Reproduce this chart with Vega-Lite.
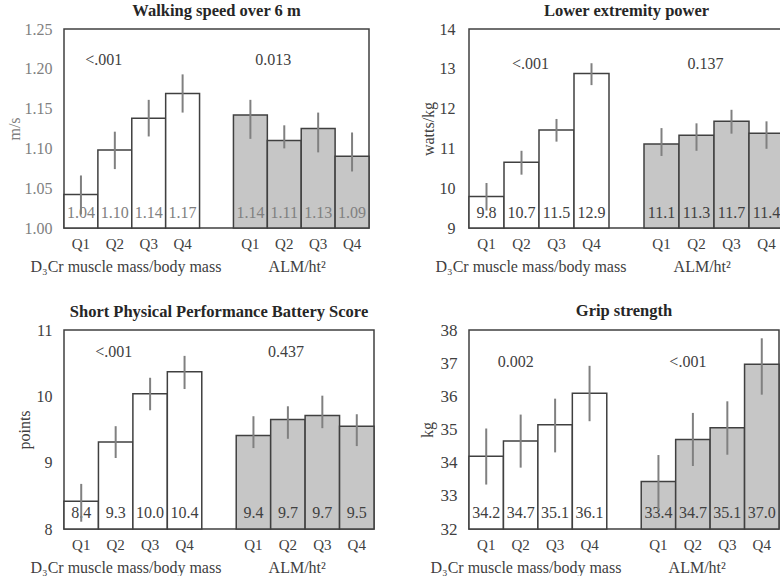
{
  "$schema": "https://vega.github.io/schema/vega-lite/v6.json",
  "padding": {"left": 5, "top": 1, "right": 2, "bottom": 0},
  "background": "white",
  "datasets": {
    "bars": [
      {"panel": "walk", "grp": "D", "slot": "D1", "mean": 1.042, "lo": 1.017, "hi": 1.066, "label": "1.04", "p": ""},
      {"panel": "walk", "grp": "D", "slot": "D2", "mean": 1.098, "lo": 1.074, "hi": 1.121, "label": "1.10", "p": "<.001"},
      {"panel": "walk", "grp": "D", "slot": "D3", "mean": 1.138, "lo": 1.115, "hi": 1.161, "label": "1.14", "p": ""},
      {"panel": "walk", "grp": "D", "slot": "D4", "mean": 1.169, "lo": 1.145, "hi": 1.193, "label": "1.17", "p": ""},
      {"panel": "walk", "grp": "A", "slot": "A1", "mean": 1.142, "lo": 1.112, "hi": 1.161, "label": "1.14", "p": ""},
      {"panel": "walk", "grp": "A", "slot": "A2", "mean": 1.110, "lo": 1.100, "hi": 1.129, "label": "1.11", "p": "0.013"},
      {"panel": "walk", "grp": "A", "slot": "A3", "mean": 1.125, "lo": 1.095, "hi": 1.145, "label": "1.13", "p": ""},
      {"panel": "walk", "grp": "A", "slot": "A4", "mean": 1.090, "lo": 1.071, "hi": 1.120, "label": "1.09", "p": ""},
      {"panel": "power", "grp": "D", "slot": "D1", "mean": 9.79, "lo": 9.44, "hi": 10.13, "label": "9.8", "p": ""},
      {"panel": "power", "grp": "D", "slot": "D2", "mean": 10.65, "lo": 10.34, "hi": 10.94, "label": "10.7", "p": "<.001"},
      {"panel": "power", "grp": "D", "slot": "D3", "mean": 11.46, "lo": 11.17, "hi": 11.74, "label": "11.5", "p": ""},
      {"panel": "power", "grp": "D", "slot": "D4", "mean": 12.88, "lo": 12.59, "hi": 13.14, "label": "12.9", "p": ""},
      {"panel": "power", "grp": "A", "slot": "A1", "mean": 11.11, "lo": 10.81, "hi": 11.51, "label": "11.1", "p": ""},
      {"panel": "power", "grp": "A", "slot": "A2", "mean": 11.33, "lo": 10.94, "hi": 11.63, "label": "11.3", "p": "0.137"},
      {"panel": "power", "grp": "A", "slot": "A3", "mean": 11.68, "lo": 11.37, "hi": 11.97, "label": "11.7", "p": ""},
      {"panel": "power", "grp": "A", "slot": "A4", "mean": 11.38, "lo": 10.99, "hi": 11.68, "label": "11.4", "p": ""},
      {"panel": "sppb", "grp": "D", "slot": "D1", "mean": 8.42, "lo": 8.11, "hi": 8.68, "label": "8.4", "p": ""},
      {"panel": "sppb", "grp": "D", "slot": "D2", "mean": 9.31, "lo": 9.07, "hi": 9.55, "label": "9.3", "p": "<.001"},
      {"panel": "sppb", "grp": "D", "slot": "D3", "mean": 10.04, "lo": 9.79, "hi": 10.28, "label": "10.0", "p": ""},
      {"panel": "sppb", "grp": "D", "slot": "D4", "mean": 10.37, "lo": 10.11, "hi": 10.61, "label": "10.4", "p": ""},
      {"panel": "sppb", "grp": "A", "slot": "A1", "mean": 9.41, "lo": 9.22, "hi": 9.70, "label": "9.4", "p": ""},
      {"panel": "sppb", "grp": "A", "slot": "A2", "mean": 9.65, "lo": 9.36, "hi": 9.85, "label": "9.7", "p": "0.437"},
      {"panel": "sppb", "grp": "A", "slot": "A3", "mean": 9.71, "lo": 9.52, "hi": 10.01, "label": "9.7", "p": ""},
      {"panel": "sppb", "grp": "A", "slot": "A4", "mean": 9.55, "lo": 9.25, "hi": 9.73, "label": "9.5", "p": ""},
      {"panel": "grip", "grp": "D", "slot": "D1", "mean": 34.19, "lo": 33.34, "hi": 35.03, "label": "34.2", "p": ""},
      {"panel": "grip", "grp": "D", "slot": "D2", "mean": 34.65, "lo": 33.85, "hi": 35.45, "label": "34.7", "p": "0.002"},
      {"panel": "grip", "grp": "D", "slot": "D3", "mean": 35.14, "lo": 34.31, "hi": 35.93, "label": "35.1", "p": ""},
      {"panel": "grip", "grp": "D", "slot": "D4", "mean": 36.09, "lo": 35.25, "hi": 36.92, "label": "36.1", "p": ""},
      {"panel": "grip", "grp": "A", "slot": "A1", "mean": 33.43, "lo": 32.57, "hi": 34.23, "label": "33.4", "p": ""},
      {"panel": "grip", "grp": "A", "slot": "A2", "mean": 34.70, "lo": 33.90, "hi": 35.50, "label": "34.7", "p": "<.001"},
      {"panel": "grip", "grp": "A", "slot": "A3", "mean": 35.05, "lo": 34.24, "hi": 35.85, "label": "35.1", "p": ""},
      {"panel": "grip", "grp": "A", "slot": "A4", "mean": 36.97, "lo": 36.05, "hi": 37.75, "label": "37.0", "p": ""}
    ]
  },
  "config": {
    "font": "Liberation Serif",
    "view": {"stroke": "#404040", "strokeWidth": 1.5},
    "axis": {"grid": false, "ticks": false, "domain": false, "labelOverlap": false, "labelFont": "Liberation Serif", "labelFontSize": 16, "labelColor": "#404040", "titleFont": "Liberation Serif", "titleFontWeight": "normal", "titleFontSize": 16, "titleColor": "#404040"},
    "axisX": {"labelAngle": 0, "labelPadding": 8, "labelFontSize": 15, "titlePadding": 7, "titleFontSize": 16, "titleAlign": "left", "titleAnchor": "start"},
    "axisY": {"labelPadding": 12, "titlePadding": 4},
    "title": {"font": "Liberation Serif", "fontSize": 16.5, "fontWeight": "bold", "color": "#262626", "offset": 2}
  },
  "columns": 2,
  "align": "none",
  "bounds": "flush",
  "spacing": {"row": 102, "column": 95},
  "concat": [
        {
          "width": 305, "height": 199,
          "title": "Walking speed over 6 m",
          "data": {"name": "bars"},
          "transform": [{"filter": "datum.panel == 'walk'"}],
          "encoding": {
            "x": {"field": "slot", "type": "nominal", "scale": {"domain": ["D1","D2","D3","D4","gap","A1","A2","A3","A4"], "paddingInner": 0, "paddingOuter": 0},
              "axis": {"labelExpr": "datum.value == 'gap' ? '' : 'Q' + substring(datum.value, 1)", "title": "D₃Cr muscle mass/body mass\u00a0\u00a0\u00a0\u00a0\u00a0\u00a0\u00a0\u00a0\u00a0\u00a0\u00a0\u2009ALM/ht²", "titleX": -34}}
          },
          "layer": [
            {"mark": {"type": "bar", "stroke": "#404040", "strokeWidth": 1.5},
             "encoding": {
               "y": {"field": "mean", "type": "quantitative", "title": "m/s", "scale": {"domain": [1, 1.25], "zero": false, "nice": false},
                 "axis": {"values": [1, 1.05, 1.1, 1.15, 1.2, 1.25], "format": ".2f", "labelOverlap": false, "labelColor": "#808080", "titleColor": "#808080", "titlePadding": 2}},
               "y2": {"datum": 1},
               "fill": {"field": "grp", "type": "nominal", "scale": {"domain": ["D", "A"], "range": ["#ffffff", "#c6c6c6"]}, "legend": null}
             }},
            {"mark": {"type": "text", "dy": -15, "fontSize": 16, "color": "#808080", "baseline": "middle"},
             "encoding": {"y": {"datum": 1, "type": "quantitative", "title": "m/s",
                 "axis": {"values": [1, 1.05, 1.1, 1.15, 1.2, 1.25], "format": ".2f", "labelOverlap": false, "labelColor": "#808080", "titleColor": "#808080", "titlePadding": 2}},
               "text": {"field": "label"}}},
            {"mark": {"type": "rule", "color": "#808080", "strokeWidth": 2},
             "encoding": {"y": {"field": "lo", "type": "quantitative", "title": "m/s",
                 "axis": {"values": [1, 1.05, 1.1, 1.15, 1.2, 1.25], "format": ".2f", "labelOverlap": false, "labelColor": "#808080", "titleColor": "#808080", "titlePadding": 2}},
               "y2": {"field": "hi"}}},
            {"transform": [{"filter": "datum.p != ''"}],
             "mark": {"type": "text", "fontSize": 16, "color": "#404040", "baseline": "middle", "dx": -11},
             "encoding": {"y": {"datum": 1.2115, "type": "quantitative", "title": "m/s",
                 "axis": {"values": [1, 1.05, 1.1, 1.15, 1.2, 1.25], "format": ".2f", "labelOverlap": false, "labelColor": "#808080", "titleColor": "#808080", "titlePadding": 2}},
               "text": {"field": "p"}}}
          ]
        },
        {
          "width": 315, "height": 199,
          "title": "Lower extremity power",
          "data": {"name": "bars"},
          "transform": [{"filter": "datum.panel == 'power'"}],
          "encoding": {
            "x": {"field": "slot", "type": "nominal", "scale": {"domain": ["D1","D2","D3","D4","gap","A1","A2","A3","A4"], "paddingInner": 0, "paddingOuter": 0},
              "axis": {"labelExpr": "datum.value == 'gap' ? '' : 'Q' + substring(datum.value, 1)", "title": "D₃Cr muscle mass/body mass\u00a0\u00a0\u00a0\u00a0\u00a0\u00a0\u00a0\u00a0\u00a0\u00a0\u00a0\u2009ALM/ht²", "titleX": -34}}
          },
          "layer": [
            {"mark": {"type": "bar", "stroke": "#404040", "strokeWidth": 1.5},
             "encoding": {
               "y": {"field": "mean", "type": "quantitative", "title": "watts/kg", "scale": {"domain": [9, 14], "zero": false, "nice": false},
                 "axis": {"values": [9, 10, 11, 12, 13, 14], "format": "d", "labelOverlap": false, "titlePadding": 3, "labelPadding": 14}},
               "y2": {"datum": 9},
               "fill": {"field": "grp", "type": "nominal", "scale": {"domain": ["D", "A"], "range": ["#ffffff", "#c6c6c6"]}, "legend": null}
             }},
            {"mark": {"type": "text", "dy": -15, "fontSize": 16, "color": "#404040", "baseline": "middle"},
             "encoding": {"y": {"datum": 9, "type": "quantitative", "title": "watts/kg",
                 "axis": {"values": [9, 10, 11, 12, 13, 14], "format": "d", "labelOverlap": false, "titlePadding": 3, "labelPadding": 14}},
               "text": {"field": "label"}}},
            {"mark": {"type": "rule", "color": "#808080", "strokeWidth": 2},
             "encoding": {"y": {"field": "lo", "type": "quantitative", "title": "watts/kg",
                 "axis": {"values": [9, 10, 11, 12, 13, 14], "format": "d", "labelOverlap": false, "titlePadding": 3, "labelPadding": 14}},
               "y2": {"field": "hi"}}},
            {"transform": [{"filter": "datum.p != ''"}],
             "mark": {"type": "text", "fontSize": 16, "color": "#404040", "baseline": "middle", "dx": 9},
             "encoding": {"y": {"datum": 13.12, "type": "quantitative", "title": "watts/kg",
                 "axis": {"values": [9, 10, 11, 12, 13, 14], "format": "d", "labelOverlap": false, "titlePadding": 3, "labelPadding": 14}},
               "text": {"field": "p"}}}
          ]
        },
        {
          "width": 310, "height": 199,
          "title": "Short Physical Performance Battery Score",
          "data": {"name": "bars"},
          "transform": [{"filter": "datum.panel == 'sppb'"}],
          "encoding": {
            "x": {"field": "slot", "type": "nominal", "scale": {"domain": ["D1","D2","D3","D4","gap","A1","A2","A3","A4"], "paddingInner": 0, "paddingOuter": 0},
              "axis": {"labelExpr": "datum.value == 'gap' ? '' : 'Q' + substring(datum.value, 1)", "title": "D₃Cr muscle mass/body mass\u00a0\u00a0\u00a0\u00a0\u00a0\u00a0\u00a0\u00a0\u00a0\u00a0\u00a0\u2009ALM/ht²", "titleX": -34}}
          },
          "layer": [
            {"mark": {"type": "bar", "stroke": "#404040", "strokeWidth": 1.5},
             "encoding": {
               "y": {"field": "mean", "type": "quantitative", "title": "points", "scale": {"domain": [8, 11], "zero": false, "nice": false},
                 "axis": {"values": [8, 9, 10, 11], "format": "d", "labelOverlap": false, "titlePadding": 4}},
               "y2": {"datum": 8},
               "fill": {"field": "grp", "type": "nominal", "scale": {"domain": ["D", "A"], "range": ["#ffffff", "#c6c6c6"]}, "legend": null}
             }},
            {"mark": {"type": "text", "dy": -16, "fontSize": 16, "color": "#404040", "baseline": "middle"},
             "encoding": {"y": {"datum": 8, "type": "quantitative", "title": "points",
                 "axis": {"values": [8, 9, 10, 11], "format": "d", "labelOverlap": false, "titlePadding": 4}},
               "text": {"field": "label"}}},
            {"mark": {"type": "rule", "color": "#808080", "strokeWidth": 2},
             "encoding": {"y": {"field": "lo", "type": "quantitative", "title": "points",
                 "axis": {"values": [8, 9, 10, 11], "format": "d", "labelOverlap": false, "titlePadding": 4}},
               "y2": {"field": "hi"}}},
            {"transform": [{"filter": "datum.p != ''"}],
             "mark": {"type": "text", "fontSize": 16, "color": "#404040", "baseline": "middle", "dx": -2},
             "encoding": {"y": {"datum": 10.67, "type": "quantitative", "title": "points",
                 "axis": {"values": [8, 9, 10, 11], "format": "d", "labelOverlap": false, "titlePadding": 4}},
               "text": {"field": "p"}}}
          ]
        },
        {
          "width": 310, "height": 199,
          "title": "Grip strength",
          "data": {"name": "bars"},
          "transform": [{"filter": "datum.panel == 'grip'"}],
          "encoding": {
            "x": {"field": "slot", "type": "nominal", "scale": {"domain": ["D1","D2","D3","D4","gap","A1","A2","A3","A4"], "paddingInner": 0, "paddingOuter": 0},
              "axis": {"labelExpr": "datum.value == 'gap' ? '' : 'Q' + substring(datum.value, 1)", "title": "D₃Cr muscle mass/body mass\u00a0\u00a0\u00a0\u00a0\u00a0\u00a0\u00a0\u00a0\u00a0\u00a0\u00a0\u2009ALM/ht²", "titleX": -39}}
          },
          "layer": [
            {"mark": {"type": "bar", "stroke": "#404040", "strokeWidth": 1.5},
             "encoding": {
               "y": {"field": "mean", "type": "quantitative", "title": "kg", "scale": {"domain": [32, 38], "zero": false, "nice": false},
                 "axis": {"values": [32, 33, 34, 35, 36, 37, 38], "format": "d", "labelOverlap": false, "titlePadding": 5, "labelFontSize": 17}},
               "y2": {"datum": 32},
               "fill": {"field": "grp", "type": "nominal", "scale": {"domain": ["D", "A"], "range": ["#ffffff", "#c6c6c6"]}, "legend": null}
             }},
            {"mark": {"type": "text", "dy": -16, "fontSize": 16, "color": "#404040", "baseline": "middle"},
             "encoding": {"y": {"datum": 32, "type": "quantitative", "title": "kg",
                 "axis": {"values": [32, 33, 34, 35, 36, 37, 38], "format": "d", "labelOverlap": false, "titlePadding": 5, "labelFontSize": 17}},
               "text": {"field": "label"}}},
            {"mark": {"type": "rule", "color": "#808080", "strokeWidth": 2},
             "encoding": {"y": {"field": "lo", "type": "quantitative", "title": "kg",
                 "axis": {"values": [32, 33, 34, 35, 36, 37, 38], "format": "d", "labelOverlap": false, "titlePadding": 5, "labelFontSize": 17}},
               "y2": {"field": "hi"}}},
            {"transform": [{"filter": "datum.p != ''"}],
             "mark": {"type": "text", "fontSize": 16, "color": "#404040", "baseline": "middle", "dx": -5},
             "encoding": {"y": {"datum": 37.05, "type": "quantitative", "title": "kg",
                 "axis": {"values": [32, 33, 34, 35, 36, 37, 38], "format": "d", "labelOverlap": false, "titlePadding": 5, "labelFontSize": 17}},
               "text": {"field": "p"}}}
          ]
        }
  ]
}
